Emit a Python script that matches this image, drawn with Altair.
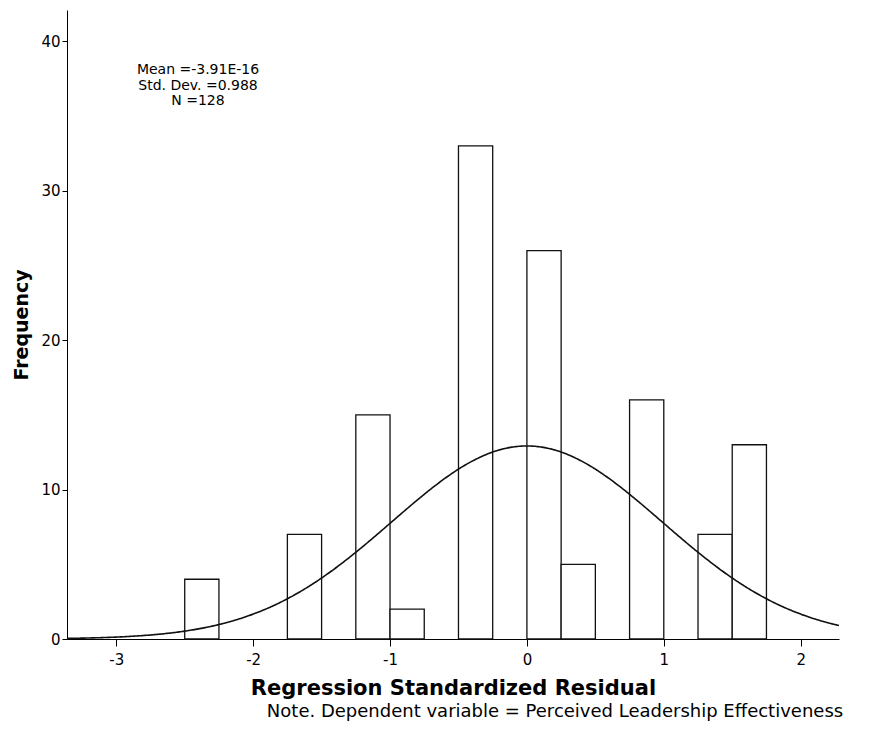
import altair as alt
import pandas as pd

# Histogram bins (left edge, right edge) and frequencies
bin_start = [-2.5, -1.75, -1.25, -1.0, -0.5, 0.0, 0.25, 0.75, 1.25, 1.5]
bin_end = [-2.25, -1.5, -1.0, -0.75, -0.25, 0.25, 0.5, 1.0, 1.5, 1.75]
freq = [4, 7, 15, 2, 33, 26, 5, 16, 7, 13]

# Fitted normal curve parameters (as printed on the chart)
mean_val = -3.91e-16
sd_val = 0.988
n_val = 128
bin_width = 0.25

stats_lines = ["Mean =-3.91E-16", "Std. Dev. =0.988", "N =128"]
note_text = "Note. Dependent variable = Perceived Leadership Effectiveness"

x_ticks = [-3, -2, -1, 0, 1, 2]
y_ticks = [0, 10, 20, 30, 40]
x_domain = [-3.36, 2.28]
y_domain = [0, 42.1]

FONT = "DejaVu Sans"

bars_df = pd.DataFrame({"start": bin_start, "end": bin_end, "freq": freq})

xscale = alt.Scale(domain=x_domain, nice=False, zero=False)
yscale = alt.Scale(domain=y_domain, nice=False, zero=True)

x_axis = alt.Axis(
    values=x_ticks, title="Regression Standardized Residual", grid=False,
    labelExpr="'' + datum.value",
    tickSize=7, labelPadding=6, titleY=55, titleBaseline="alphabetic",
    titleFontSize=21, titleFont=FONT, titleFontWeight="bold",
)
y_axis = alt.Axis(
    values=y_ticks, title="Frequency", grid=False, tickSize=5, labelPadding=2,
    labelExpr="'' + datum.value",
    titleX=-40, titleBaseline="alphabetic", titleAngle=-90,
    titleFontSize=19, titleFont=FONT, titleFontWeight="bold",
)

bars = alt.Chart(bars_df).mark_bar(
    fill="white", stroke="#111111", strokeWidth=1.3
).encode(
    x=alt.X("start:Q", scale=xscale, axis=x_axis),
    x2="end:Q",
    y=alt.Y("freq:Q", scale=yscale, axis=y_axis),
    y2=alt.datum(0),
)

curve = alt.Chart(alt.sequence(x_domain[0], x_domain[1] + 0.005, 0.01, as_="z")).transform_calculate(
    dens=f"{n_val}*{bin_width}*exp(-0.5*pow((datum.z-({mean_val}))/{sd_val},2))/({sd_val}*sqrt(2*PI))"
).mark_line(color="#111111", strokeWidth=1.6).encode(
    x=alt.X("z:Q", scale=xscale),
    y=alt.Y("dens:Q", scale=yscale),
)

stats = alt.Chart(pd.DataFrame({"k": [0]})).mark_text(
    text=stats_lines, align="center", baseline="alphabetic", lineHeight=15.5,
    fontSize=14, font=FONT, color="black",
).encode(x=alt.value(131), y=alt.value(64))

note = alt.Chart(pd.DataFrame({"k": [0]})).mark_text(
    text=note_text, align="center", baseline="alphabetic",
    fontSize=18, font=FONT, color="black",
).encode(x=alt.value(488), y=alt.value(707))

chart = alt.layer(bars, curve, stats, note).properties(
    width=772, height=629,
    autosize=alt.AutoSizeParams(type="none"),
    padding={"left": 59, "top": 2, "right": 39, "bottom": 82},
).configure_view(stroke=None).configure_axis(
    domainColor="black", tickColor="black", labelColor="black", titleColor="black",
    labelFont=FONT, labelFontSize=15, domainWidth=1, tickWidth=1,
)

chart.save("out.html", embed_options={"renderer": "svg", "actions": False})
